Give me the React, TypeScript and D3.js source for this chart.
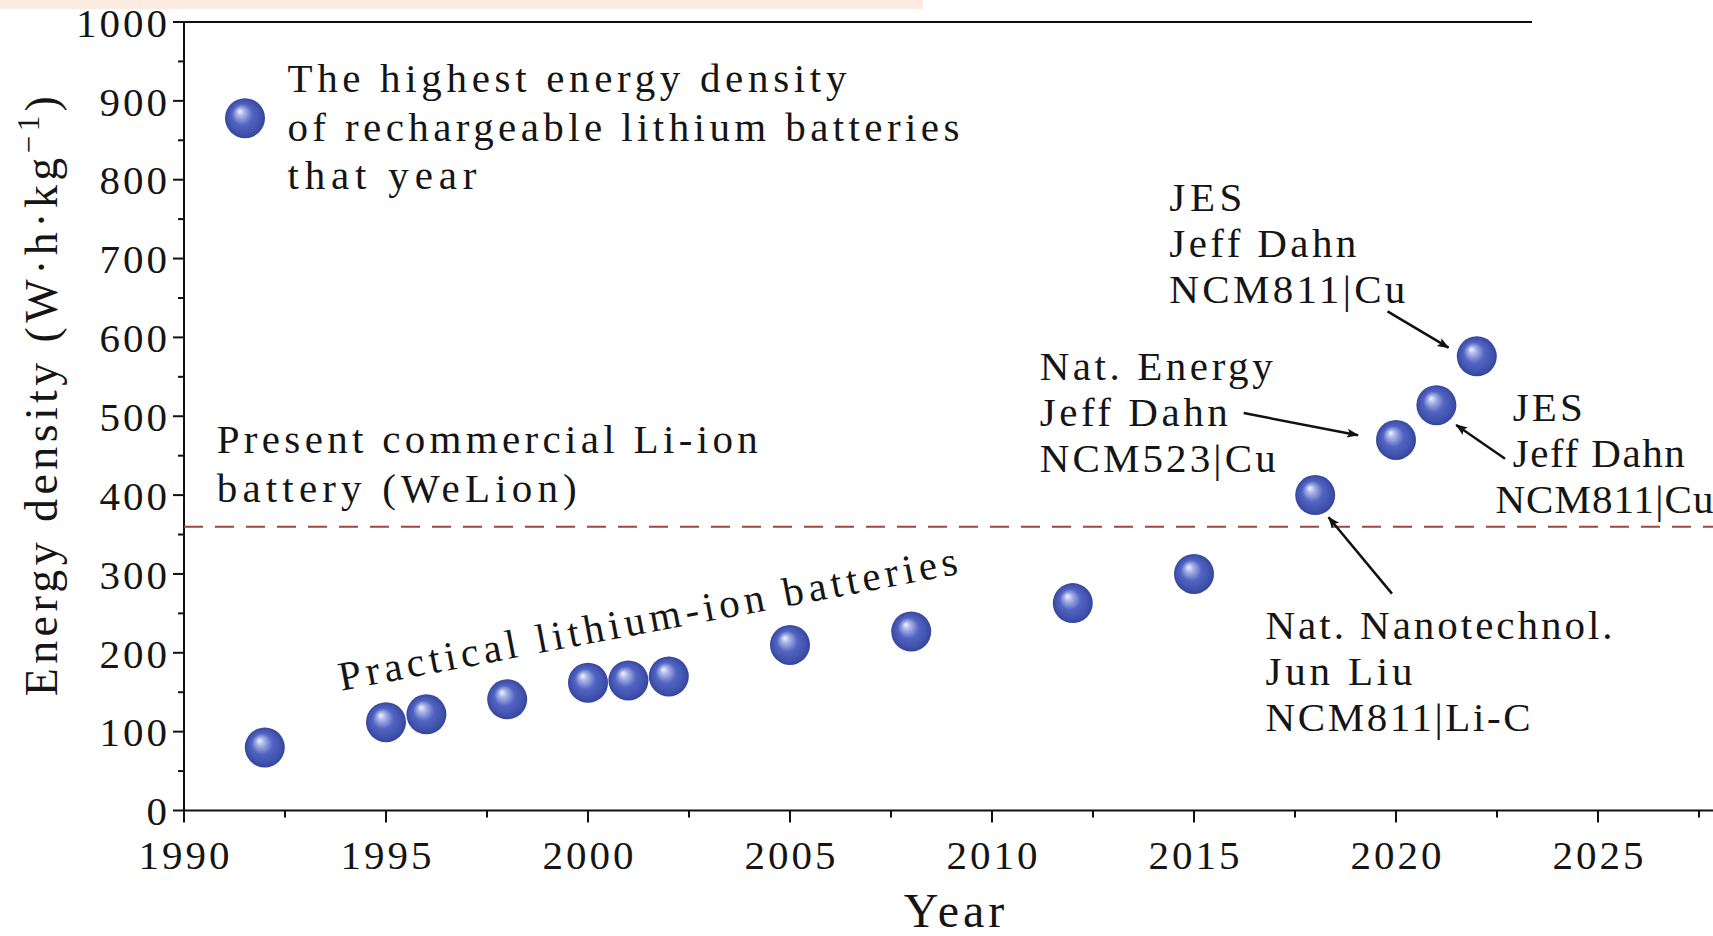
import React from 'react';
import * as d3 from 'd3';

// ---------- data ----------
const years = [1992, 1995, 1996, 1998, 2000, 2001, 2002, 2005, 2008, 2012, 2015, 2018, 2020, 2021, 2022];
const densities = [80, 112, 122, 141, 162, 165, 170, 210, 227, 263, 300, 400, 470, 514, 576];
const xMajorTicks = [1990, 1995, 2000, 2005, 2010, 2015, 2020, 2025];
const xMinorTicks = [1992.5, 1997.5, 2002.5, 2007.5, 2012.5, 2017.5, 2022.5, 2027.5];
const yMajorTicks = [0, 100, 200, 300, 400, 500, 600, 700, 800, 900, 1000];
const yMinorTicks = [50, 150, 250, 350, 450, 550, 650, 750, 850, 950];
const commercialLevel = 360;

const legendLines = ['The highest energy density', 'of rechargeable lithium batteries', 'that year'];
const legendWidths = [559, 672, 189];
const commercialLines = ['Present commercial Li-ion', 'battery (WeLion)'];
const commercialWidths = [541, 360];
const trendLabel = 'Practical lithium-ion batteries';
const trendWidth = 629;

const annotationTexts = [
  { lines: ['JES', 'Jeff Dahn', 'NCM811|Cu'], widths: [73, 187, 236], year: 2014.39, value: 760 },
  { lines: ['Nat. Energy', 'Jeff Dahn', 'NCM523|Cu'], widths: [233, 188, 236], year: 2011.18, value: 546 },
  { lines: ['JES', 'Jeff Dahn'], widths: [70, 172], year: 2022.89, value: 494 },
  { lines: ['NCM811|Cu'], widths: [218], year: 2022.46, value: 377 },
  { lines: ['Nat. Nanotechnol.', 'Jun Liu', 'NCM811|Li-C'], widths: [347, 147, 265], year: 2016.77, value: 217 },
];

const arrows = [
  { from: [2019.79, 633], to: [2021.3, 587] },
  { from: [2016.23, 504], to: [2019.06, 476] },
  { from: [2022.7, 446], to: [2021.49, 489] },
  { from: [2019.9, 275], to: [2018.33, 372] },
];

// ---------- layout ----------
const W = 1713;
const H = 936;
const FONT = "'Liberation Serif', 'DejaVu Serif', serif";

const x = d3.scaleLinear().domain([1990, 2025]).range([184, 1598]);
const y = d3.scaleLinear().domain([0, 1000]).range([810.5, 22]);

function Lines({ lines, widths, xPos, yPos, step, size = 41 }:
  { lines: string[]; widths: number[]; xPos: number; yPos: number; step: number; size?: number }) {
  return (
    <g>
      {lines.map((l, i) => (
        <text key={i} x={xPos} y={yPos + i * step} fontSize={size} fill="#151515"
          textLength={widths[i]} lengthAdjust="spacing">{l}</text>
      ))}
    </g>
  );
}

export default function App() {
  const xEnd = W;
  const ballR = 20;
  return (
    <svg width={W} height={H} style={{ position: 'absolute', left: 0, top: 0, background: '#fff' }}
      fontFamily={FONT}>
      <defs>
        <radialGradient id="ball" cx="50%" cy="50%" r="50%" fx="36%" fy="32%">
          <stop offset="0%" stopColor="#f4f6ff" />
          <stop offset="20%" stopColor="#a9b4e8" />
          <stop offset="52%" stopColor="#5264c2" />
          <stop offset="85%" stopColor="#4051ad" />
          <stop offset="100%" stopColor="#35459b" />
        </radialGradient>
        <marker id="arrow" viewBox="0 0 12 10" refX="11" refY="5" markerWidth="13" markerHeight="10"
          markerUnits="userSpaceOnUse" orient="auto">
          <path d="M0,0.5 L12,5 L0,9.5 L2.5,5 Z" fill="#111" />
        </marker>
      </defs>

      {/* peach strip at top */}
      <rect x={0} y={0} width={923} height={9} fill="#fcebe0" />

      {/* top frame line */}
      <line x1={x(1990)} x2={1532} y1={y(1000)} y2={y(1000)} stroke="#111" strokeWidth={2.2} />

      {/* axes */}
      <line x1={x(1990)} x2={x(1990)} y1={y(0)} y2={y(1000)} stroke="#111" strokeWidth={2} />
      <line x1={x(1990)} x2={xEnd} y1={y(0)} y2={y(0)} stroke="#111" strokeWidth={2} />

      {yMajorTicks.map((t) => (
        <g key={'ym' + t}>
          <line x1={x(1990) - 11} x2={x(1990)} y1={y(t)} y2={y(t)} stroke="#111" strokeWidth={2} />
          <text x={x(1990) - 14} y={y(t)} dy="0.36em" textAnchor="end" fontSize={41} letterSpacing={3} fill="#151515">{t}</text>
        </g>
      ))}
      {yMinorTicks.map((t) => (
        <line key={'yn' + t} x1={x(1990) - 6} x2={x(1990)} y1={y(t)} y2={y(t)} stroke="#111" strokeWidth={2} />
      ))}
      {xMajorTicks.map((t) => (
        <g key={'xm' + t}>
          <line x1={x(t)} x2={x(t)} y1={y(0)} y2={y(0) + 12} stroke="#111" strokeWidth={2} />
          <text x={x(t) + 1.5} y={y(0) + 58} textAnchor="middle" fontSize={41} letterSpacing={3} fill="#151515">{t}</text>
        </g>
      ))}
      {xMinorTicks.map((t) => (
        <line key={'xn' + t} x1={x(t)} x2={x(t)} y1={y(0)} y2={y(0) + 7} stroke="#111" strokeWidth={2} />
      ))}

      {/* axis titles */}
      <text x={956} y={927} textAnchor="middle" fontSize={48} letterSpacing={4} fill="#151515">Year</text>
      <text transform={`translate(57,394) rotate(-90)`} textAnchor="middle" fontSize={46} letterSpacing={4.4} fill="#151515">
        Energy density (W·h·kg<tspan dy={-18} fontSize={31}>−1</tspan><tspan dy={18} fontSize={46}>)</tspan>
      </text>

      {/* commercial level */}
      <line x1={x(1990)} x2={xEnd} y1={y(commercialLevel)} y2={y(commercialLevel)} stroke="#a0463f"
        strokeWidth={2} strokeDasharray="19 12" />
      <Lines lines={commercialLines} widths={commercialWidths} xPos={x(1990.81)} yPos={y(453)} step={49} />

      {/* trend label */}
      <g transform={`translate(${x(1993.89)},${y(152)}) rotate(-10.7)`}>
        <text x={0} y={0} fontSize={41} fill="#151515" textLength={trendWidth} lengthAdjust="spacing">{trendLabel}</text>
      </g>

      {/* legend */}
      <ellipse cx={x(1991.51)} cy={y(878)} rx={ballR} ry={ballR} fill="url(#ball)" />
      <Lines lines={legendLines} widths={legendWidths} xPos={x(1992.56)} yPos={y(911)} step={48.6} />

      {/* annotations */}
      {annotationTexts.map((a, k) => (
        <Lines key={'a' + k} lines={a.lines} widths={a.widths} xPos={x(a.year)} yPos={y(a.value)} step={46} />
      ))}
      {arrows.map((a, k) => (
        <line key={'ar' + k} x1={x(a.from[0])} y1={y(a.from[1])} x2={x(a.to[0])} y2={y(a.to[1])}
          stroke="#111" strokeWidth={2.5} markerEnd="url(#arrow)" />
      ))}

      {/* data points */}
      {years.map((yr, i) => (
        <ellipse key={'p' + yr} cx={x(yr)} cy={y(densities[i])} rx={ballR} ry={ballR} fill="url(#ball)" />
      ))}
    </svg>
  );
}
